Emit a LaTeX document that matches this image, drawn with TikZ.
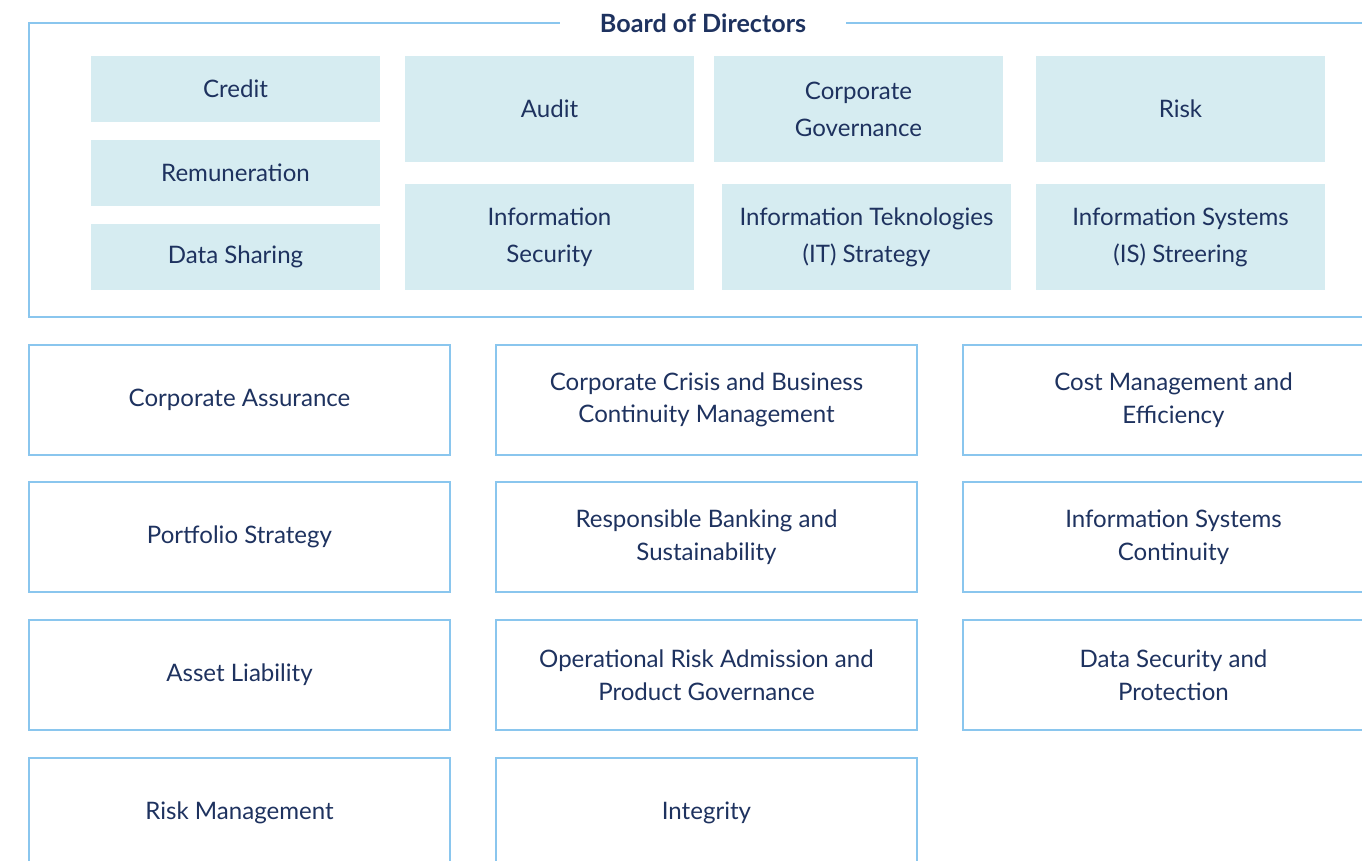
\documentclass[tikz,border=0pt]{standalone}
\usepackage{fontspec}
\setmainfont{Lato}
\definecolor{boardnavy}{RGB}{30,50,95}
\definecolor{boardline}{RGB}{138,198,238}
\definecolor{boardfill}{RGB}{214,236,241}
\usetikzlibrary{positioning}
\tikzset{
  every picture/.style={/utils/exec={\rmfamily}},
  subcomm/.style={fill=boardfill, text=boardnavy, align=center,
    minimum width=5.78cm, font=\fontsize{13.7}{21}\selectfont},
  committee/.style={draw=boardline, line width=0.8pt, text=boardnavy,
    align=center, minimum width=8.42cm, minimum height=2.2cm,
    font=\fontsize{13.7}{18.5}\selectfont},
}

\begin{document}
\begin{tikzpicture}[x=0.02cm, y=-0.02cm]
  \useasboundingbox (0,0) rectangle (1362,861);
  \clip (0,0) rectangle (1362,861);

  % board frame
  \node [text=boardnavy, inner xsep=0.8cm, font=\bfseries\fontsize{14.3}{17}\selectfont] (board) at (703,23) {Board of Directors};
  \coordinate (frametl) at (29,23);
  \coordinate (framebr) at (1400,317);
  \draw [boardline, line width=0.8pt] (board.west) -- (frametl) |- (framebr) |- (board.east);

  % board committees
  \node [subcomm, minimum height=1.32cm] (credit) at (235.5,89) {Credit};
  \node [subcomm, minimum height=1.32cm] (remun) at (235.5,173) {Remuneration};
  \node [subcomm, minimum height=1.32cm] (datashare) at (235.5,257) {Data Sharing};
  \node [subcomm, minimum height=2.12cm] (audit) at (549.5,109) {Audit};
  \node [subcomm, minimum height=2.12cm] (corpgov) at (858.5,109) {Corporate\\Governance};
  \node [subcomm, minimum height=2.12cm] (risk) at (1180.5,109) {Risk};
  \node [subcomm, minimum height=2.12cm] (infosec) at (549.5,237) {Information\\Security};
  \node [subcomm, minimum height=2.12cm] (itstrat) at (866.5,237) {Information Teknologies\\(IT) Strategy};
  \node [subcomm, minimum height=2.12cm] (issteer) at (1180.5,237) {Information Systems\\(IS) Streering};

  % executive committees
  \node [committee] (assurance) at (239.5,400) {Corporate Assurance};
  \node [committee] (crisis) at (706.5,400) {Corporate Crisis and Business\\Continuity Management};
  \node [committee] (cost) at (1173.5,400) {Cost Management and\\Efficiency};

  \node [committee] (portfolio) at (239.5,537) {Portfolio Strategy};
  \node [committee] (banking) at (706.5,537) {Responsible Banking and\\Sustainability};
  \node [committee] (iscont) at (1173.5,537) {Information Systems\\Continuity};

  \node [committee] (asset) at (239.5,675) {Asset Liability};
  \node [committee] (oprisk) at (706.5,675) {Operational Risk Admission and\\Product Governance};
  \node [committee] (datasec) at (1173.5,675) {Data Security and\\Protection};

  \node [committee] (riskmgmt) at (239.5,813) {Risk Management};
  \node [committee] (integrity) at (706.5,813) {Integrity};
\end{tikzpicture}
\end{document}
